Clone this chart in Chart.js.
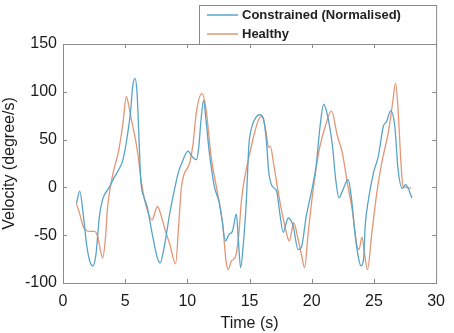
<!DOCTYPE html>
<html>
<head>
<meta charset="utf-8">
<script src="https://cdn.jsdelivr.net/npm/chart.js@4/dist/chart.umd.min.js"></script>
<style>
  html, body { margin: 0; padding: 0; background: #fff; }
  #wrap { width: 454px; height: 333px; }
</style>
</head>
<body>
<div id="wrap"><canvas id="velocityChart" width="454" height="333"></canvas></div>
<script>
// Angular velocity traces (time in s, velocity in degree/s)
const constrainedTime = [1.08, 1.35, 1.6, 1.9, 2.15, 2.4, 2.65, 2.93, 3.2, 3.72, 4.1, 4.5, 4.8, 5.1, 5.44, 5.6, 5.78, 5.95, 6.1, 6.25, 6.5, 6.76, 7.15, 7.55, 7.81, 8.1, 8.6, 9.0, 9.26, 9.6, 10.05, 10.4, 10.72, 10.9, 11.1, 11.3, 11.5, 11.77, 12.17, 12.56, 12.8, 13.05, 13.36, 13.62, 13.94, 14.1, 14.28, 14.49, 14.75, 14.94, 15.2, 15.5, 15.8, 16.12, 16.39, 16.52, 16.79, 17.18, 17.44, 17.71, 18.1, 18.5, 18.9, 19.16, 19.56, 19.95, 20.35, 20.67, 20.96, 21.27, 21.67, 21.93, 22.19, 22.46, 22.93, 23.2, 23.5, 23.78, 23.95, 24.17, 24.3, 24.57, 24.96, 25.36, 25.76, 26.02, 26.34, 26.68, 26.94, 27.29, 27.55, 27.79, 28.05];
const constrainedVel = [-17, -4, -25, -60, -77, -82, -70, -30, -12, 0, 10, 19, 28, 48, 80, 105, 114, 100, 55, 8, -10, -20, -47, -72, -79, -65, -26, 0, 15, 27, 38, 32, 29, 40, 71, 91, 70, 36, 1, -16, -35, -56, -49, -46, -28, -55, -84, -61, -12, 43, 64, 73, 76, 72, 43, 19, 2, -4, -28, -47, -32, -40, -65, -63, -30, -6, 22, 64, 87, 75, 43, 8, -11, -4, 8, -12, -51, -75, -82, -75, -40, -12, 15, 33, 64, 69, 80, 64, 19, -1, 3, -2, -11];

const healthyTime = [1.08, 1.35, 1.6, 1.87, 2.2, 2.53, 2.8, 3.0, 3.19, 3.4, 3.59, 3.98, 4.5, 4.8, 5.09, 5.25, 5.44, 5.96, 6.36, 6.76, 7.15, 7.6, 7.9, 8.2, 8.6, 9.05, 9.3, 9.53, 10.19, 10.45, 10.72, 11.16, 11.5, 11.9, 12.43, 12.83, 13.09, 13.28, 13.54, 13.88, 14.15, 14.33, 14.54, 14.94, 15.34, 15.73, 15.99, 16.34, 16.52, 16.68, 16.92, 17.32, 17.71, 18.1, 18.2, 18.55, 18.9, 19.2, 19.43, 19.69, 20.08, 20.61, 21.14, 21.59, 22.06, 22.46, 22.86, 23.25, 23.65, 23.8, 24.04, 24.25, 24.48, 24.84, 25.23, 25.63, 26.15, 26.5, 26.74, 26.94, 27.16, 27.34, 27.6, 28.0];
const healthyVel = [-17, -28, -40, -45, -46, -46, -52, -65, -74, -55, -20, 12, 40, 65, 95, 88, 75, 40, 1, -23, -34, -20, -30, -44, -60, -80, -40, 1, 26, 45, 78, 98, 82, 33, -6, -37, -75, -86, -77, -72, -47, -16, 5, 31, 54, 71, 74, 57, 42, 43, 26, -6, -33, -54, -56, -37, -54, -72, -84, -51, -6, 40, 66, 80, 54, 36, 5, -23, -62, -65, -52, -70, -86, -47, -6, 26, 57, 88, 109, 82, 29, 1, 0, -1];

const seriesLabels = ['Constrained (Normalised)', 'Healthy'];
const xTicks = [0, 5, 10, 15, 20, 25, 30];
const yTicks = [-100, -50, 0, 50, 100, 150];

const FRAME = '#8a8a8a';
const TEXT = '#1a1a1a';
const FONT = "'Liberation Sans', Arial, sans-serif";

function toPoints(xs, ys) {
    return xs.map((x, i) => ({ x: x, y: ys[i] }));
}

// Box around the plot with inward tick marks on all four sides
const framePlugin = {
    id: 'frame',
    afterDatasetsDraw(chart) {
        const { ctx, chartArea: a, scales } = chart;
        ctx.save();
        ctx.strokeStyle = FRAME;
        ctx.lineWidth = 1;
        ctx.strokeRect(a.left + 0.5, a.top + 0.5, a.right - a.left, a.bottom - a.top);
        ctx.beginPath();
        xTicks.forEach(v => {
            const px = Math.round(scales.x.getPixelForValue(v)) + 0.5;
            ctx.moveTo(px, a.bottom); ctx.lineTo(px, a.bottom - 4);
            ctx.moveTo(px, a.top); ctx.lineTo(px, a.top + 4);
        });
        yTicks.forEach(v => {
            const py = Math.round(scales.y.getPixelForValue(v)) + 0.5;
            ctx.moveTo(a.left, py); ctx.lineTo(a.left + 4, py);
            ctx.moveTo(a.right, py); ctx.lineTo(a.right - 4, py);
        });
        ctx.stroke();
        ctx.restore();
    }
};

// MATLAB-style legend box sitting on top of the plot frame
const boxLegendPlugin = {
    id: 'boxLegend',
    afterDraw(chart) {
        const { ctx, chartArea: a } = chart;
        const left = 199, top = 5;
        ctx.save();
        ctx.fillStyle = '#fff';
        ctx.fillRect(left, top, a.right - left, a.top - top);
        ctx.strokeStyle = FRAME;
        ctx.lineWidth = 1;
        ctx.strokeRect(left + 0.5, top + 0.5, a.right - left, a.top - top);
        ctx.font = "bold 13px " + FONT;
        ctx.textBaseline = 'middle';
        chart.data.datasets.forEach((ds, i) => {
            const y = top + 10 + i * 19;
            ctx.strokeStyle = ds.borderColor;
            ctx.lineWidth = 1.5;
            ctx.beginPath();
            ctx.moveTo(left + 8, y);
            ctx.lineTo(left + 39, y);
            ctx.stroke();
            ctx.fillStyle = '#222';
            ctx.fillText(ds.label, left + 43, y);
        });
        ctx.restore();
    }
};

new Chart(document.getElementById('velocityChart'), {
    type: 'line',
    data: {
        datasets: [
            {
                label: seriesLabels[0],
                data: toPoints(constrainedTime, constrainedVel),
                borderColor: '#58a4c9',
                borderWidth: 1.3,
                pointRadius: 0,
                tension: 0.4,
                cubicInterpolationMode: 'monotone',
                fill: false
            },
            {
                label: seriesLabels[1],
                data: toPoints(healthyTime, healthyVel),
                borderColor: '#e39676',
                borderWidth: 1.3,
                pointRadius: 0,
                tension: 0.4,
                cubicInterpolationMode: 'monotone',
                fill: false
            }
        ]
    },
    options: {
        responsive: false,
        animation: false,
        layout: { padding: { top: 44, right: 12, left: 0, bottom: 0 } },
        plugins: {
            legend: { display: false },
            tooltip: { enabled: false }
        },
        scales: {
            x: {
                type: 'linear',
                min: 0,
                max: 30,
                afterBuildTicks: s => { s.ticks = xTicks.map(v => ({ value: v })); },
                afterFit: s => { s.height = 50; },
                grid: { display: false, drawTicks: false },
                border: { display: false },
                ticks: { color: TEXT, font: { family: FONT, size: 16 }, padding: 9, maxRotation: 0 },
                title: { display: true, text: 'Time (s)', color: TEXT, font: { family: FONT, size: 16 }, padding: { top: 0, bottom: 0 } }
            },
            y: {
                min: -100,
                max: 150,
                afterBuildTicks: s => { s.ticks = yTicks.map(v => ({ value: v })); },
                afterFit: s => { s.width = 63; },
                grid: { display: false, drawTicks: false },
                border: { display: false },
                ticks: { color: TEXT, font: { family: FONT, size: 16 }, padding: 6 },
                title: { display: true, text: 'Velocity (degree/s)', color: TEXT, font: { family: FONT, size: 16 }, padding: { top: 0, bottom: 0 } }
            }
        }
    },
    plugins: [framePlugin, boxLegendPlugin]
});
</script>
</body>
</html>
